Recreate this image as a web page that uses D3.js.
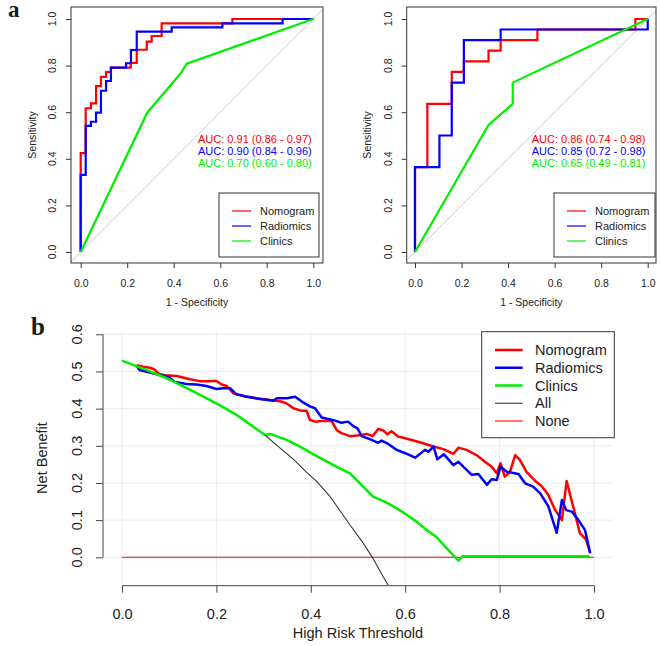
<!DOCTYPE html>
<html><head><meta charset="utf-8">
<script src="https://cdn.jsdelivr.net/npm/d3@7"></script>
<style>body{margin:0;background:#fff} text{font-family:"Liberation Sans",Arial,sans-serif}</style>
</head><body><svg id="c" width="660" height="646"></svg>
<script>
// ---------- DATA ----------
const seriesNames = ["Nomogram", "Radiomics", "Clinics"];
const dcaNames = ["Nomogram", "Radiomics", "Clinics", "All", "None"];
const rocTicks = [0, 0.2, 0.4, 0.6, 0.8, 1.0];
const dcaXTicks = [0, 0.2, 0.4, 0.6, 0.8, 1.0];
const dcaYTicks = [0, 0.1, 0.2, 0.3, 0.4, 0.5, 0.6];

// Training ROC (left)
const trainNomoFpr = [0,0,0.0215,0.0215,0.044,0.044,0.066,0.066,0.087,0.087,0.109,0.109,0.130,0.130,0.215,0.215,0.241,0.241,0.284,0.284,0.305,0.305,0.348,0.348,0.652,0.652,1];
const trainNomoTpr = [0,0.424,0.424,0.617,0.617,0.638,0.638,0.712,0.712,0.752,0.752,0.772,0.772,0.791,0.791,0.812,0.812,0.868,0.868,0.903,0.903,0.927,0.927,0.981,0.981,1,1];
const trainRadFpr = [0,0,0.0215,0.0215,0.044,0.044,0.066,0.066,0.087,0.087,0.109,0.109,0.130,0.130,0.195,0.195,0.216,0.216,0.241,0.241,0.391,0.391,0.609,0.609,0.868,0.868,1];
const trainRadTpr = [0,0.331,0.331,0.541,0.541,0.559,0.559,0.598,0.598,0.692,0.692,0.734,0.734,0.791,0.791,0.81,0.81,0.867,0.867,0.946,0.946,0.964,0.964,0.981,0.981,1,1];
const trainCliFpr = [0,0.286,0.43,0.456,1];
const trainCliTpr = [0,0.598,0.767,0.808,1];
const trainAuc = ["AUC: 0.91 (0.86 - 0.97)", "AUC: 0.90 (0.84 - 0.96)", "AUC: 0.70 (0.60 - 0.80)"];

// Test ROC (right)
const testNomoFpr = [0,0,0.053,0.053,0.158,0.158,0.21,0.21,0.316,0.316,0.368,0.368,0.526,0.526,0.947,0.947,1];
const testNomoTpr = [0,0.364,0.364,0.636,0.636,0.773,0.773,0.818,0.818,0.864,0.864,0.909,0.909,0.955,0.955,1,1];
const testRadFpr = [0,0,0.105,0.105,0.158,0.158,0.21,0.21,0.368,0.368,1,1];
const testRadTpr = [0,0.364,0.364,0.5,0.5,0.727,0.727,0.909,0.909,0.955,0.955,1];
const testCliFpr = [0,0.316,0.42,0.42,1];
const testCliTpr = [0,0.545,0.636,0.727,1];
const testAuc = ["AUC: 0.86 (0.74 - 0.98)", "AUC: 0.85 (0.72 - 0.98)", "AUC: 0.65 (0.49 - 0.81)"];

// Decision curves
const dcaNomoX = [0.031,0.045,0.059,0.068,0.079,0.091,0.116,0.144,0.165,0.186,0.199,0.211,0.222,0.236,0.257,0.285,0.314,0.335,0.349,0.363,0.381,0.391,0.398,0.409,0.423,0.444,0.455,0.465,0.483,0.508,0.518,0.531,0.543,0.554,0.562,0.571,0.585,0.610,0.638,0.660,0.681,0.702,0.713,0.730,0.751,0.773,0.783,0.794,0.802,0.811,0.822,0.833,0.843,0.857,0.875,0.889,0.903,0.917,0.932,0.942,0.956,0.970,0.983,0.992];
const dcaNomoY = [0.517,0.513,0.510,0.506,0.493,0.490,0.488,0.479,0.474,0.474,0.475,0.465,0.461,0.441,0.434,0.428,0.423,0.420,0.414,0.401,0.394,0.394,0.370,0.365,0.367,0.367,0.342,0.334,0.326,0.329,0.332,0.326,0.345,0.341,0.331,0.339,0.325,0.317,0.307,0.298,0.291,0.278,0.295,0.289,0.275,0.253,0.244,0.226,0.253,0.217,0.230,0.275,0.262,0.230,0.206,0.192,0.168,0.129,0.100,0.205,0.136,0.065,0.048,0.012];
const dcaRadX = [0.031,0.037,0.059,0.081,0.098,0.112,0.137,0.158,0.179,0.200,0.215,0.229,0.242,0.264,0.292,0.321,0.328,0.349,0.367,0.381,0.398,0.409,0.423,0.448,0.465,0.479,0.490,0.499,0.508,0.525,0.543,0.550,0.564,0.582,0.600,0.621,0.642,0.649,0.660,0.668,0.682,0.691,0.702,0.713,0.723,0.741,0.755,0.773,0.783,0.794,0.802,0.815,0.840,0.854,0.871,0.886,0.903,0.921,0.932,0.941,0.953,0.967,0.981,0.992];
const dcaRadY = [0.515,0.504,0.497,0.490,0.486,0.472,0.466,0.465,0.461,0.453,0.455,0.455,0.439,0.432,0.426,0.421,0.428,0.428,0.432,0.419,0.406,0.401,0.376,0.369,0.362,0.365,0.353,0.347,0.326,0.318,0.308,0.314,0.305,0.289,0.280,0.268,0.289,0.284,0.298,0.264,0.277,0.264,0.248,0.257,0.244,0.222,0.224,0.195,0.210,0.208,0.244,0.230,0.224,0.199,0.190,0.172,0.138,0.066,0.154,0.127,0.123,0.100,0.073,0.011];
const dcaCliX = [0,0.05,0.1,0.15,0.2,0.243,0.303,0.314,0.349,0.377,0.409,0.448,0.483,0.504,0.532,0.564,0.593,0.624,0.646,0.667,0.688,0.706,0.713,0.722,0.99];
const dcaCliY = [0.529,0.505,0.479,0.447,0.414,0.383,0.329,0.332,0.316,0.298,0.275,0.248,0.226,0.199,0.163,0.145,0.123,0.096,0.073,0.054,0.024,0.0,-0.009,0.003,0.003];
const dcaAllX = [0.303,0.33,0.363,0.39,0.412,0.441,0.465,0.483,0.51,0.532,0.55,0.564];
const dcaAllY = [0.329,0.299,0.264,0.230,0.205,0.163,0.120,0.087,0.040,-0.003,-0.045,-0.075];
const dcaNoneX = [0, 1];
const dcaNoneY = [0, 0];

// ---------- DRAW ----------
const svg = d3.select("#c");
const zip = (xs, ys) => xs.map((x, i) => [x, ys[i]]);
const rocColors = ["#ff0000", "#0000ff", "#00ee00"];

function rocPanel(o) {
  const x = d3.scaleLinear().domain([0, 1]).range(o.xr);
  const y = d3.scaleLinear().domain([0, 1]).range([252, 19]);
  const g = svg.append("g");
  const clipId = "clip" + o.id;
  svg.append("clipPath").attr("id", clipId).append("rect")
    .attr("x", o.box[0]).attr("y", 7).attr("width", o.box[1] - o.box[0]).attr("height", 256);
  g.append("line").attr("clip-path", `url(#${clipId})`)
    .attr("x1", x(-0.1)).attr("y1", y(-0.1)).attr("x2", x(1.1)).attr("y2", y(1.1))
    .attr("stroke", "#c8c8c8").attr("stroke-width", 1);
  const line = d3.line().x(d => x(d[0])).y(d => y(d[1]));
  o.curves.forEach((c, i) => {
    g.append("path").attr("d", line(zip(c[0], c[1]))).attr("fill", "none")
      .attr("stroke", rocColors[i]).attr("stroke-width", 2.2);
  });
  g.append("rect").attr("x", o.box[0]).attr("y", 7).attr("width", o.box[1] - o.box[0]).attr("height", 256)
    .attr("fill", "none").attr("stroke", "#333").attr("stroke-width", 1);
  const ax = d3.axisBottom(x).tickValues(rocTicks).tickSize(5).tickFormat(d3.format(".1f"));
  const gx = g.append("g").attr("transform", "translate(0,263)").call(ax);
  gx.select(".domain").remove();
  gx.selectAll("line").attr("stroke", "#333");
  gx.selectAll("text").attr("font-size", "10.5px").attr("fill", "#222").attr("dy", null).attr("y", 24);
  const ay = d3.axisLeft(y).tickValues(rocTicks).tickSize(5).tickFormat("");
  const gy = g.append("g").attr("transform", `translate(${o.box[0]},0)`).call(ay);
  gy.select(".domain").remove();
  gy.selectAll("line").attr("stroke", "#333");
  rocTicks.forEach(t => {
    g.append("text").attr("transform", `translate(${o.ylab},${y(t)}) rotate(-90)`)
      .attr("text-anchor", "middle").attr("dy", "0.35em").attr("font-size", "10.5px").attr("fill", "#222")
      .text(d3.format(".1f")(t));
  });
  g.append("text").attr("x", (o.xr[0] + o.xr[1]) / 2).attr("y", 306).attr("text-anchor", "middle")
    .attr("font-size", "10.5px").attr("fill", "#222").text("1 - Specificity");
  g.append("text").attr("transform", `translate(${o.ytitle},135) rotate(-90)`).attr("text-anchor", "middle")
    .attr("dy", "0.35em").attr("font-size", "10.5px").attr("fill", "#222").text("Sensitivity");
  o.auc.forEach((t, i) => {
    g.append("text").attr("x", o.aucX).attr("y", 143 + i * 12.2).attr("font-size", "11px")
      .attr("fill", rocColors[i]).text(t);
  });
  g.append("rect").attr("x", o.leg[0]).attr("y", 193).attr("width", o.leg[1]).attr("height", 64)
    .attr("fill", "#fff").attr("stroke", "#333").attr("stroke-width", 1);
  seriesNames.forEach((n, i) => {
    const yy = 211 + i * 15;
    g.append("line").attr("x1", o.leg[0] + 13).attr("x2", o.leg[0] + 32).attr("y1", yy).attr("y2", yy)
      .attr("stroke", rocColors[i]).attr("stroke-width", 1.2);
    g.append("text").attr("x", o.leg[0] + 41).attr("y", yy).attr("dy", "0.35em").attr("font-size", "11px")
      .attr("fill", "#222").text(n);
  });
}

rocPanel({ id: "L", xr: [80.7, 313.3], box: [71, 323], ylab: 52, ytitle: 32, aucX: 198, leg: [219, 100],
  curves: [[trainNomoFpr, trainNomoTpr], [trainRadFpr, trainRadTpr], [trainCliFpr, trainCliTpr]], auc: trainAuc });
rocPanel({ id: "R", xr: [415, 647.7], box: [406.7, 656], ylab: 388, ytitle: 367, aucX: 531.7, leg: [554, 101],
  curves: [[testNomoFpr, testNomoTpr], [testRadFpr, testRadTpr], [testCliFpr, testCliTpr]], auc: testAuc });

// panel letters
svg.append("text").attr("x", 8).attr("y", 17).attr("font-weight", "bold").attr("font-size", "23px")
  .attr("fill", "#1a1a1a").style("font-family", "Liberation Serif, serif").text("a");
svg.append("text").attr("x", 31).attr("y", 335).attr("font-weight", "bold").attr("font-size", "25px")
  .attr("fill", "#1a1a1a").style("font-family", "Liberation Serif, serif").text("b");

// ---------- Decision curve ----------
const xb = d3.scaleLinear().domain([0, 1]).range([122, 594]);
const yb = d3.scaleLinear().domain([0, 0.6]).range([557.3, 334.3]);
const gb = svg.append("g");
svg.append("clipPath").attr("id", "clipB").append("rect").attr("x", 103).attr("y", 332).attr("width", 510).attr("height", 253.7);
dcaXTicks.forEach(t => gb.append("line").attr("x1", xb(t)).attr("x2", xb(t)).attr("y1", 332).attr("y2", 585.7)
  .attr("stroke", "#ececec").attr("stroke-width", 1));
dcaYTicks.forEach(t => gb.append("line").attr("x1", 103).attr("x2", 613).attr("y1", yb(t)).attr("y2", yb(t))
  .attr("stroke", "#ececec").attr("stroke-width", 1));
const lb = d3.line().x(d => xb(d[0])).y(d => yb(d[1]));
const dcaColors = ["#ff0000", "#0000ff", "#00ee00", "#333333", "#ff0000"];
const dcaWidths = [2.5, 2.5, 2.5, 1.1, 1.1];
const dcaData = [[dcaNomoX, dcaNomoY], [dcaRadX, dcaRadY], [dcaCliX, dcaCliY], [dcaAllX, dcaAllY], [dcaNoneX, dcaNoneY]];
const order = [4, 0, 1, 2, 3];
order.forEach(i => {
  gb.append("path").attr("clip-path", "url(#clipB)").attr("d", lb(zip(dcaData[i][0], dcaData[i][1])))
    .attr("fill", "none").attr("stroke", dcaColors[i]).attr("stroke-width", dcaWidths[i])
    .attr("stroke-linejoin", "round");
});
const axb = d3.axisBottom(xb).tickValues(dcaXTicks).tickSize(7).tickFormat(d3.format(".1f"));
const gxb = gb.append("g").attr("transform", "translate(0,585.7)").call(axb);
gxb.select(".domain").attr("stroke", "#444").attr("d", `M${xb(0)},0H${xb(1)}`);
gxb.selectAll("line").attr("stroke", "#444");
gxb.selectAll("text").attr("font-size", "14.5px").attr("fill", "#222").attr("dy", null).attr("y", 33);
const ayb = d3.axisLeft(yb).tickValues(dcaYTicks).tickSize(7).tickFormat("");
const gyb = gb.append("g").attr("transform", "translate(103,0)").call(ayb);
gyb.select(".domain").attr("stroke", "#444").attr("d", `M0,${yb(0)}V${yb(0.6)}`);
gyb.selectAll("line").attr("stroke", "#444");
dcaYTicks.forEach(t => gb.append("text").attr("transform", `translate(77,${yb(t)}) rotate(-90)`)
  .attr("text-anchor", "middle").attr("dy", "0.35em").attr("font-size", "14.5px").attr("fill", "#222")
  .text(d3.format(".1f")(t)));
gb.append("text").attr("x", 358).attr("y", 638).attr("text-anchor", "middle").attr("font-size", "14.5px")
  .attr("fill", "#222").text("High Risk Threshold");
gb.append("text").attr("transform", "translate(42,458) rotate(-90)").attr("text-anchor", "middle")
  .attr("dy", "0.35em").attr("font-size", "14.5px").attr("fill", "#222").text("Net Benefit");
gb.append("rect").attr("x", 481.7).attr("y", 331.7).attr("width", 132.6).attr("height", 106)
  .attr("fill", "#fff").attr("stroke", "#333").attr("stroke-width", 1);
dcaNames.forEach((n, i) => {
  const yy = 350 + i * 17.75;
  gb.append("line").attr("x1", 495).attr("x2", 522.7).attr("y1", yy).attr("y2", yy)
    .attr("stroke", dcaColors[i]).attr("stroke-width", dcaWidths[i]);
  gb.append("text").attr("x", 535).attr("y", yy).attr("dy", "0.35em").attr("font-size", "14.5px")
    .attr("fill", "#222").text(n);
});
</script></body></html>
